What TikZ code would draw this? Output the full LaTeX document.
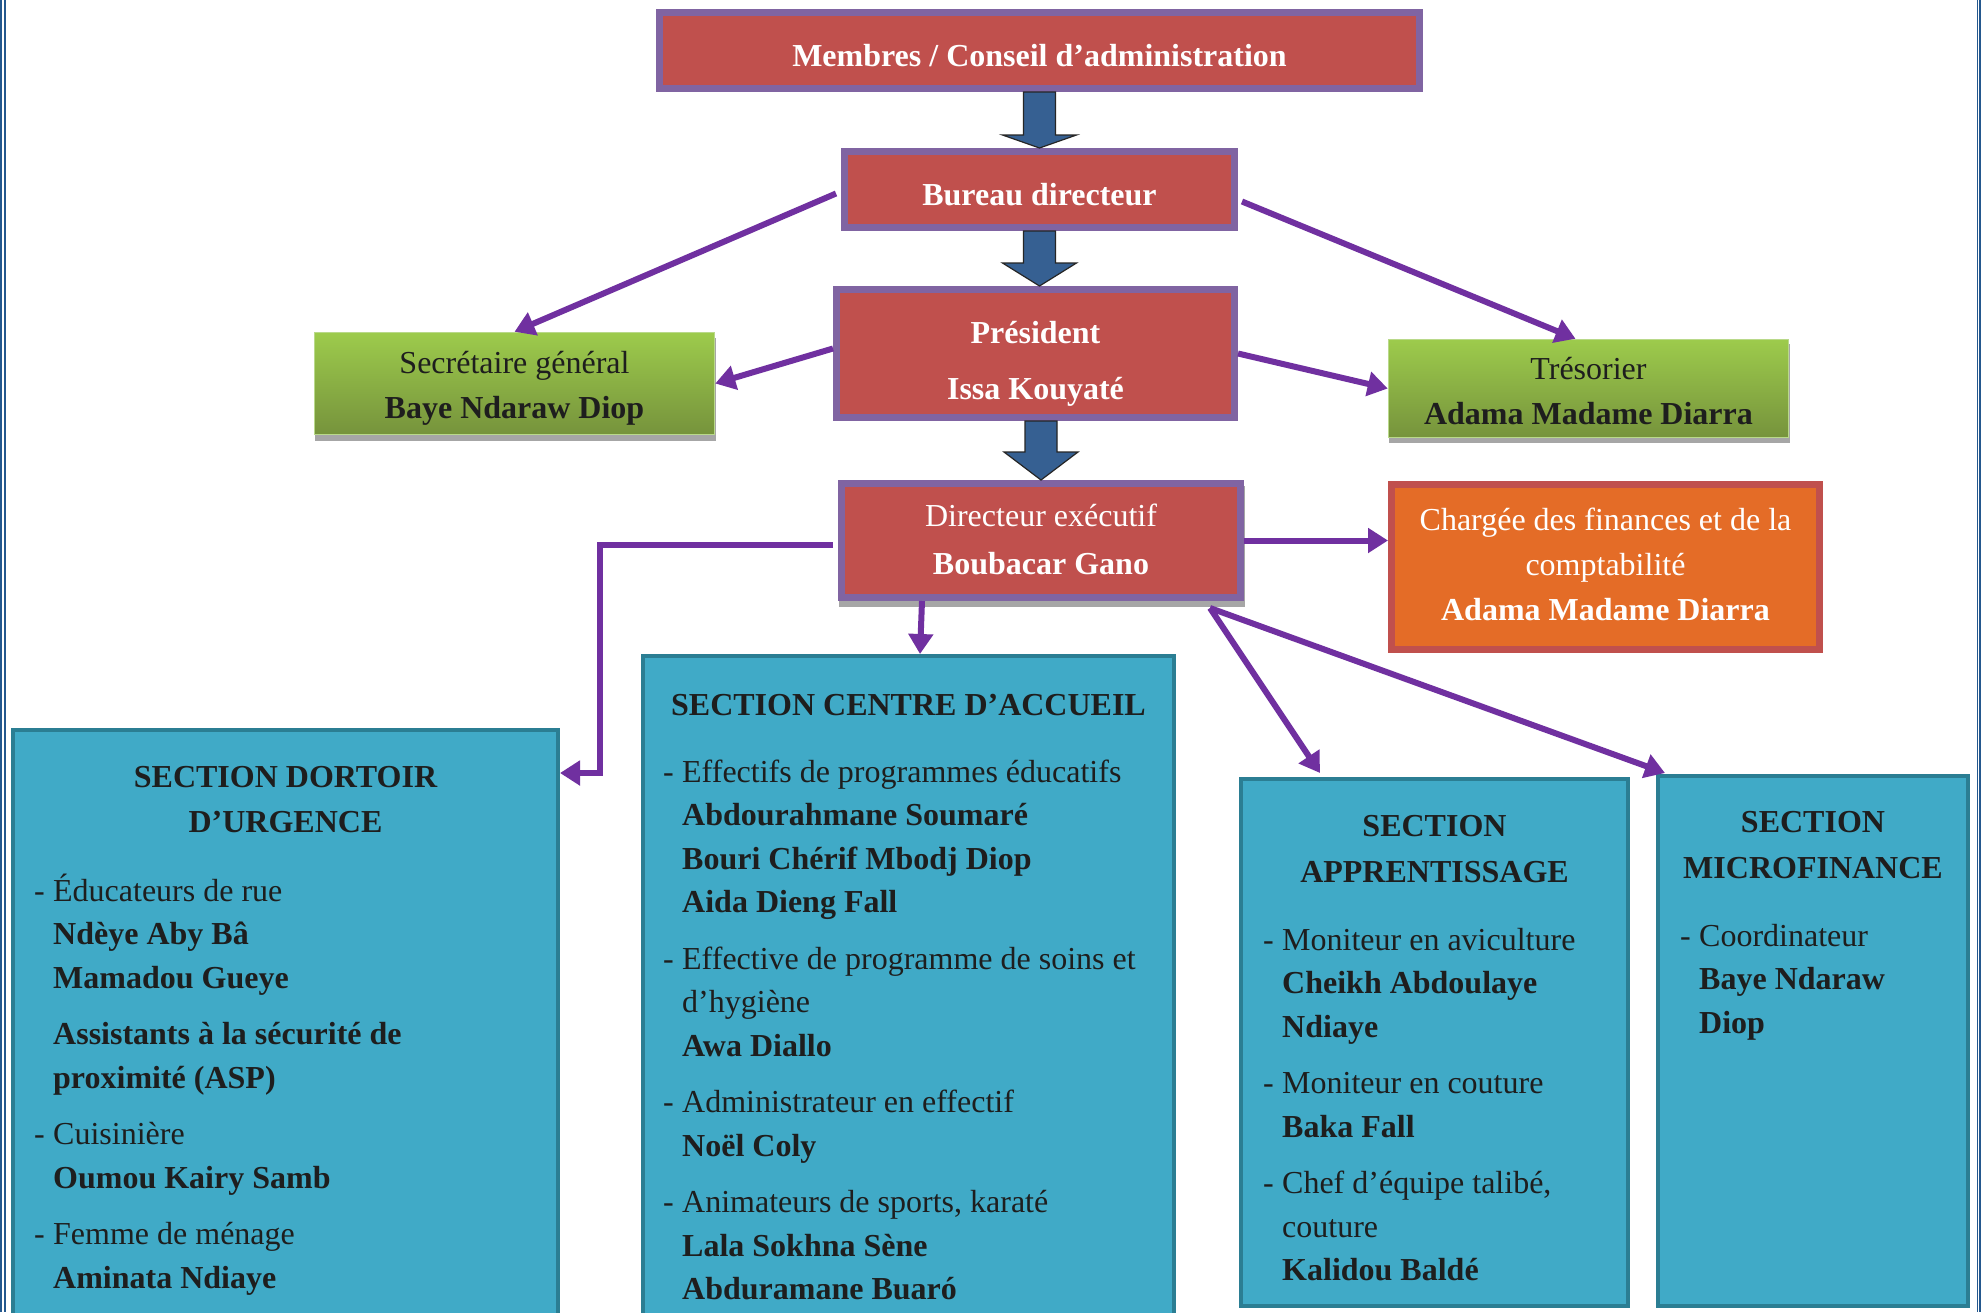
\documentclass[tikz,border=0pt]{standalone}
\usepackage{fontspec}
\setmainfont{Liberation Serif}
\usetikzlibrary{arrows.meta,calc}
\definecolor{boxred}{HTML}{C0504D}
\definecolor{boxpurple}{HTML}{8064A2}
\definecolor{linkpurple}{HTML}{7030A0}
\definecolor{arrowblue}{HTML}{366092}
\definecolor{secfill}{HTML}{40AAC7}
\definecolor{secborder}{HTML}{2B7E93}
\definecolor{greentop}{HTML}{9DCB4C}
\definecolor{greenbot}{HTML}{76933C}
\definecolor{greenedge}{HTML}{B9D98A}
\definecolor{orangefill}{HTML}{E46C27}
\definecolor{pageblue}{HTML}{24588E}
\definecolor{shadowgray}{HTML}{A6A6A6}
\definecolor{textdark}{HTML}{1E1E1E}
\newcommand\dashitem{\makebox[19pt][l]{-}}
\newcommand\inditem{\hspace*{19pt}}
\newcommand\blockarrow[3]{%
  \filldraw[fill=arrowblue, draw=black!85, line width=1.2pt, line join=miter]
    ($(#1)+(-16,0)$) -- ($(#1)+(16,0)$) -- ($(#2)+(16,-#3)$) -- ($(#2)+(37,-#3)$)
    -- (#2) -- ($(#2)+(-37,-#3)$) -- ($(#2)+(-16,-#3)$) -- cycle;}
\begin{document}
\begin{tikzpicture}[x=1pt,y=-1pt,
  topbox/.style={draw=boxpurple, line width=7pt, fill=boxred, inner sep=0pt},
  greenbox/.style={draw=greenedge, line width=1.5pt, top color=greentop, bottom color=greenbot, inner sep=0pt},
  orangebox/.style={draw=boxred, line width=7pt, fill=orangefill, inner sep=0pt},
  secbox/.style={draw=secborder, line width=4pt, fill=secfill, inner sep=0pt},
  toptext/.style={text=white, align=center, inner sep=0pt, anchor=base, font=\fontsize{32}{45}\selectfont},
  greentext/.style={text=textdark, align=center, inner sep=0pt, anchor=base, font=\fontsize{32}{45}\selectfont},
  sechead/.style={text=textdark, align=center, inner sep=0pt, anchor=base, font=\fontsize{32}{45.5}\selectfont\bfseries},
  secitems/.style={text=textdark, align=left, inner sep=0pt, anchor=base west, font=\fontsize{32}{43.5}\selectfont},
  link/.style={draw=linkpurple, line width=6pt, -{Triangle[length=20pt,width=24pt]}},
  pageline/.style={draw=pageblue, line width=1.8pt}
]
\useasboundingbox (0,0) rectangle (1981,1312);
\clip (0,0) rectangle (1981,1312);
\fill[white] (0,0) rectangle (1981,1312);

% page border
\draw[pageline] (1.2,0) -- (1.2,1312);
\draw[pageline] (4.7,0) -- (4.7,1312);
\draw[pageline] (1977.5,0) -- (1977.5,1312);
\draw[pageline] (1980.2,0) -- (1980.2,1312);

% shadows
\fill[shadowgray] (315,338) rectangle (716,441);
\fill[shadowgray] (1389,344) rectangle (1790,443);
\fill[shadowgray] (839,486) rectangle (1245,607);

% top boxes (multi-line texts are placed by the baseline of their last line)
\node[topbox, minimum width=760pt, minimum height=76pt] (mem) at (1039.5,50.5) {};
\node[toptext] (memt) at (1039.5,66) {\textbf{Membres / Conseil d’administration}};

\node[topbox, minimum width=390pt, minimum height=76pt] (bur) at (1039.5,189.5) {};
\node[toptext] (burt) at (1039.5,205) {\textbf{Bureau directeur}};

\node[topbox, minimum width=398pt, minimum height=128pt] (pres) at (1035.5,353.5) {};
\node[toptext] (prest) at (1035.5,399) {\textbf{Président}\\[11pt]\textbf{Issa Kouyaté}};

\node[topbox, minimum width=399pt, minimum height=114pt] (dir) at (1041,540.5) {};
\node[toptext] (dirt) at (1041,574) {Directeur exécutif\\[3pt]\textbf{Boubacar Gano}};

\node[greenbox, minimum width=400pt, minimum height=102pt] (sec) at (514.5,383.5) {};
\node[greentext] (sect) at (514.5,418) {Secrétaire général\\\textbf{Baye Ndaraw Diop}};

\node[greenbox, minimum width=400pt, minimum height=98pt] (tre) at (1588.5,388.5) {};
\node[greentext] (tret) at (1588.5,424) {Trésorier\\\textbf{Adama Madame Diarra}};

\node[orangebox, minimum width=428pt, minimum height=165pt] (cha) at (1605.5,567) {};
\node[toptext] (chat) at (1605.5,620) {Chargée des finances et de la\\comptabilité\\\textbf{Adama Madame Diarra}};

% section boxes
\node[secbox, minimum width=545pt, minimum height=620pt] (dor) at (285.5,1040) {};
\node[sechead] (dorh) at (285.5,832.5) {SECTION DORTOIR\\D’URGENCE};
\node[secitems] (dori) at (34,1288) {%
\dashitem Éducateurs de rue\\
\inditem\textbf{Ndèye Aby Bâ}\\
\inditem\textbf{Mamadou Gueye}\\[13pt]
\inditem\textbf{Assistants à la sécurité de}\\
\inditem\textbf{proximité (ASP)}\\[13pt]
\dashitem Cuisinière\\
\inditem\textbf{Oumou Kairy Samb}\\[13pt]
\dashitem Femme de ménage\\
\inditem\textbf{Aminata Ndiaye}};

\node[secbox, minimum width=531pt, minimum height=700pt] (cen) at (908.5,1006) {};
\node[sechead] (cenh) at (908.5,715) {SECTION CENTRE D’ACCUEIL};
\node[secitems] (ceni) at (663,1299.5) {%
\dashitem Effectifs de programmes éducatifs\\
\inditem\textbf{Abdourahmane Soumaré}\\
\inditem\textbf{Bouri Chérif Mbodj Diop}\\
\inditem\textbf{Aida Dieng Fall}\\[13pt]
\dashitem Effective de programme de soins et\\
\inditem d’hygiène\\
\inditem\textbf{Awa Diallo}\\[13pt]
\dashitem Administrateur en effectif\\
\inditem\textbf{Noël Coly}\\[13pt]
\dashitem Animateurs de sports, karaté\\
\inditem\textbf{Lala Sokhna Sène}\\
\inditem\textbf{Abduramane Buaró}};

\node[secbox, minimum width=387pt, minimum height=527pt] (app) at (1434.5,1042.5) {};
\node[sechead] (apph) at (1434.5,882) {SECTION\\APPRENTISSAGE};
\node[secitems] (appi) at (1263,1280.5) {%
\dashitem Moniteur en aviculture\\
\inditem\textbf{Cheikh Abdoulaye}\\
\inditem\textbf{Ndiaye}\\[13pt]
\dashitem Moniteur en couture\\
\inditem\textbf{Baka Fall}\\[13pt]
\dashitem Chef d’équipe talibé,\\
\inditem couture\\
\inditem\textbf{Kalidou Baldé}};

\node[secbox, minimum width=310pt, minimum height=530pt] (mic) at (1813,1041) {};
\node[sechead] (mich) at (1813,878) {SECTION\\MICROFINANCE};
\node[secitems] (mici) at (1680,1033) {%
\dashitem Coordinateur\\
\inditem\textbf{Baye Ndaraw}\\
\inditem\textbf{Diop}};

% block arrows
\blockarrow{mem.south}{mem.south |- bur.north}{13}
\blockarrow{bur.south}{bur.south |- pres.north}{23}
\blockarrow{dir.north |- pres.south}{dir.north}{28}

% connectors
\draw[link] ($(bur.west)+(-5,4)$) -- (sec.north);
\draw[link] ($(bur.east)+(4,12)$) -- ($(tre.north)+(-13,0)$);
\draw[link] ($(pres.west)+(0,-5)$) -- (sec.east);
\draw[link] (pres.east) -- (tre.west);
\draw[link] (dir.east) -- (dir.east -| cha.west);
\coordinate (bend) at ($(dir.west)+(-238,4)$);
\draw[link] ($(dir.west)+(-5,4)$) -- (bend) |- ($(dor.north east)+(0,45)$);
\draw[link] ($(dir.south west)+(84,0)$) -- ($(cen.north west)+(279,0)$);
\coordinate (dirout) at ($(dir.south east)+(-34,7)$);
\draw[link] (dirout) -- ($(app.north west)+(81,-4)$);
\draw[link] (dirout) -- ($(mic.north west)+(9,-1)$);
\end{tikzpicture}
\end{document}
